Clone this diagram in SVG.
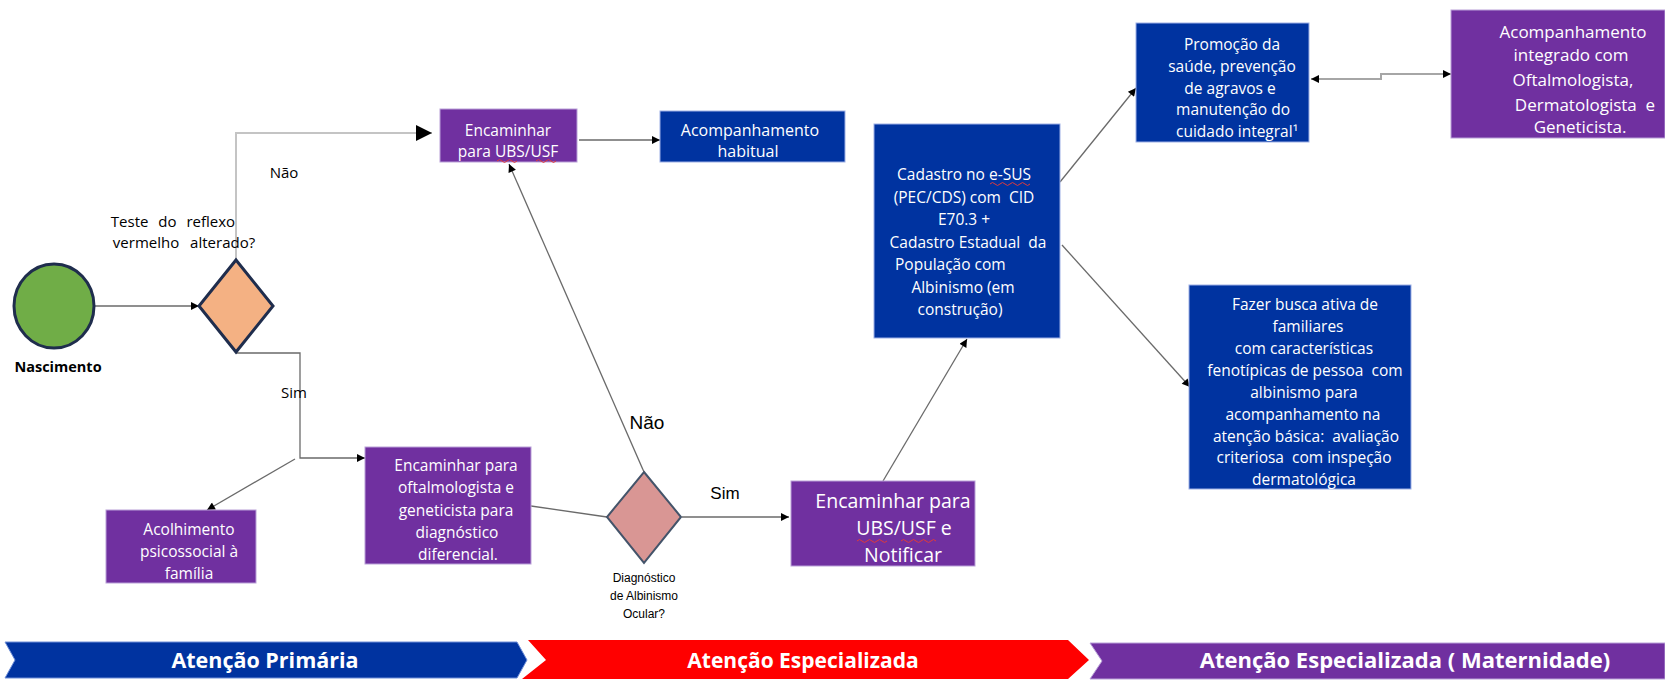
<svg xmlns="http://www.w3.org/2000/svg" width="1665" height="680" viewBox="0 0 1665 680">
<style>
.t{font-family:"Open Sans","Liberation Sans",sans-serif;font-size:15.5px;fill:#fff;text-anchor:middle}
.t16{font-size:16px}
.t19{font-size:19.5px}
.t17{font-size:17px}
.st{text-anchor:start}
.lbl{font-family:"Open Sans","Liberation Sans",sans-serif;font-size:15px;fill:#000;text-anchor:middle}
.ar{font-family:"Liberation Sans",Arial,sans-serif;fill:#000;text-anchor:middle}
.pur{fill:#7030a0;stroke:#b9a0d8;stroke-width:1}
.blu{fill:#0033a0;stroke:#9db0e6;stroke-width:1}
.c{fill:none;stroke:#6a6a6a;stroke-width:1.3}
.sq{fill:none;stroke:#e03a3a;stroke-width:1}
.bn{font-family:"Open Sans","Liberation Sans",sans-serif;font-weight:bold;fill:#fff;text-anchor:middle}
</style>
<defs>
<marker id="ah" viewBox="0 0 10 10" refX="10" refY="5" markerWidth="10" markerHeight="8" markerUnits="userSpaceOnUse" orient="auto-start-reverse"><path d="M0,0 L10,5 L0,10 z" fill="#000"/></marker>
<marker id="big" viewBox="0 0 10 10" refX="10" refY="5" markerWidth="30" markerHeight="16" markerUnits="userSpaceOnUse" orient="auto"><path d="M0,0 L10,5 L0,10 z" fill="#000"/></marker>
</defs>

<g id="connectors">
<path class="c" d="M94,306 H199" marker-end="url(#ah)"/>
<path d="M236,260 V133 H432" fill="none" stroke="#c4c4c4" stroke-width="2" marker-end="url(#big)"/>
<path class="c" d="M236,353 H300 V458 H365" marker-end="url(#ah)"/>
<path class="c" d="M295,459 L207,510" marker-end="url(#ah)"/>
<path class="c" d="M579,140 H660" marker-end="url(#ah)"/>
<path class="c" d="M531,506 L607,517"/>
<path class="c" d="M644,472 L509,164" marker-end="url(#ah)"/>
<path class="c" d="M682,517 H789" marker-end="url(#ah)"/>
<path class="c" d="M883,481 L967,339" marker-end="url(#ah)"/>
<path class="c" d="M1060,182 L1136,88" marker-end="url(#ah)"/>
<path class="c" d="M1062,245 L1190,387" marker-end="url(#ah)"/>
<path d="M1311,79 H1381 V74 H1451" fill="none" stroke="#a6a6a6" stroke-width="2" marker-start="url(#ah)" marker-end="url(#ah)"/>
<text class="lbl" x="284" y="178">Não</text>
<text class="lbl" x="294" y="398">Sim</text>
<text class="ar" x="647" y="429" font-size="19">Não</text>
<text class="ar" x="725" y="499" font-size="17">Sim</text>
</g>

<g id="nascimento">
<ellipse cx="54" cy="306" rx="40" ry="42" fill="#70ad47" stroke="#1f2d4d" stroke-width="3"/>
<text x="58" y="372" font-family="'Open Sans','Liberation Sans',sans-serif" font-size="14.5" font-weight="bold" text-anchor="middle" fill="#000">Nascimento</text>
</g>

<g id="decisao-reflexo">
<polygon points="236,260 273,306 236,352 199,306" fill="#f4b183" stroke="#1f2d4d" stroke-width="3"/>
<text class="lbl" x="173" y="227" word-spacing="6">Teste do reflexo</text>
<text class="lbl" x="184" y="248" word-spacing="7">vermelho alterado?</text>
</g>

<g id="encaminhar-ubs">
<rect class="pur" x="440" y="109" width="137" height="53"/>
<text class="t" x="508" y="136">Encaminhar</text>
<text class="t" x="508" y="157">para UBS/USF</text>
<path class="sq" d="M497,161 q2.5,-3 5,0 t5,0 t5,0 t5,0 M536,161 q2.5,-3 5,0 t5,0 t5,0 t5,0"/>
</g>

<g id="acomp-habitual">
<rect class="blu" x="660" y="111" width="185" height="51"/>
<text class="t t16" x="750" y="136">Acompanhamento</text>
<text class="t t16" x="748" y="157">habitual</text>
</g>

<g id="acolhimento">
<rect class="pur" x="106" y="510" width="150" height="73"/>
<text class="t" x="189" y="535">Acolhimento</text>
<text class="t" x="189" y="557">psicossocial à</text>
<text class="t" x="189" y="579">família</text>
</g>

<g id="encaminhar-oftalmo">
<rect class="pur" x="365" y="447" width="166" height="117"/>
<text class="t" x="456" y="471">Encaminhar para</text>
<text class="t" x="456" y="493">oftalmologista e</text>
<text class="t" x="456" y="516">geneticista para</text>
<text class="t" x="457" y="538">diagnóstico</text>
<text class="t" x="458" y="560">diferencial.</text>
</g>

<g id="decisao-albinismo">
<polygon points="644,472 681,517 644,563 607,517" fill="#d99694" stroke="#44546a" stroke-width="2"/>
<text class="ar" x="644" y="582" font-size="12">Diagnóstico</text>
<text class="ar" x="644" y="600" font-size="12">de Albinismo</text>
<text class="ar" x="644" y="618" font-size="12">Ocular?</text>
</g>

<g id="encaminhar-notificar">
<rect class="pur" x="791" y="481" width="184" height="85"/>
<text class="t t19" x="893" y="508">Encaminhar para</text>
<text class="t t19" x="904" y="535">UBS/USF e</text>
<text class="t t19" x="903" y="562">Notificar</text>
<path class="sq" d="M857,541 q2.5,-3 5,0 t5,0 t5,0 t5,0 t5,0 t5,0 M901,541 q2.5,-3 5,0 t5,0 t5,0 t5,0 t5,0 t5,0 t5,0"/>
</g>

<g id="cadastro">
<rect class="blu" x="874" y="124" width="186" height="214"/>
<text class="t" x="964" y="180">Cadastro no e-SUS</text>
<text class="t" x="964" y="203" xml:space="preserve">(PEC/CDS) com  CID</text>
<text class="t" x="964" y="225">E70.3 +</text>
<text class="t" x="968" y="248" xml:space="preserve">Cadastro Estadual  da</text>
<text class="t st" x="895" y="270">População com</text>
<text class="t" x="963" y="293">Albinismo (em</text>
<text class="t" x="960" y="315">construção)</text>
<path class="sq" d="M990,184 q2.5,-3 5,0 t5,0 t5,0 t5,0 t5,0 t5,0 t5,0 t5,0"/>
</g>

<g id="promocao">
<rect class="blu" x="1136" y="23" width="173" height="119"/>
<text class="t" x="1232" y="50">Promoção da</text>
<text class="t" x="1232" y="72">saúde, prevenção</text>
<text class="t" x="1230" y="94">de agravos e</text>
<text class="t" x="1233" y="115">manutenção do</text>
<text class="t" x="1237" y="137">cuidado integral¹</text>
</g>

<g id="acomp-integrado">
<rect class="pur" x="1451" y="10" width="214" height="128"/>
<text class="t t17" x="1573" y="38">Acompanhamento</text>
<text class="t t17" x="1571" y="61">integrado com</text>
<text class="t t17" x="1573" y="86">Oftalmologista,</text>
<text class="t t17" x="1585" y="111" xml:space="preserve">Dermatologista  e</text>
<text class="t t17" x="1580" y="133">Geneticista.</text>
</g>

<g id="busca-ativa">
<rect class="blu" x="1189" y="285" width="222" height="204"/>
<text class="t" x="1305" y="310">Fazer busca ativa de</text>
<text class="t" x="1308" y="332">familiares</text>
<text class="t" x="1304" y="354">com características</text>
<text class="t" x="1305" y="376" xml:space="preserve">fenotípicas de pessoa  com</text>
<text class="t" x="1304" y="398">albinismo para</text>
<text class="t" x="1303" y="420">acompanhamento na</text>
<text class="t" x="1306" y="442" xml:space="preserve">atenção básica:  avaliação</text>
<text class="t" x="1304" y="463" xml:space="preserve">criteriosa  com inspeção</text>
<text class="t" x="1304" y="485">dermatológica</text>
</g>

<g id="faixa-primaria">
<polygon points="5,642 517,642 527,660 517,678 5,678 15,660" fill="#0033a0" stroke="#6f8fd8" stroke-width="1"/>
<text class="bn" x="265" y="668" font-size="21.5">Atenção Primária</text>
</g>
<g id="faixa-especializada">
<polygon points="528,640 1068,640 1089,660 1068,679 522,679 546,660" fill="#ff0000"/>
<text class="bn" x="803" y="668" font-size="21">Atenção Especializada</text>
</g>
<g id="faixa-maternidade">
<polygon points="1090,643 1665,643 1665,679 1090,679 1102,661" fill="#7030a0" stroke="#b9a0d8" stroke-width="1"/>
<text class="bn" x="1405" y="668" font-size="22">Atenção Especializada ( Maternidade)</text>
</g>
</svg>
